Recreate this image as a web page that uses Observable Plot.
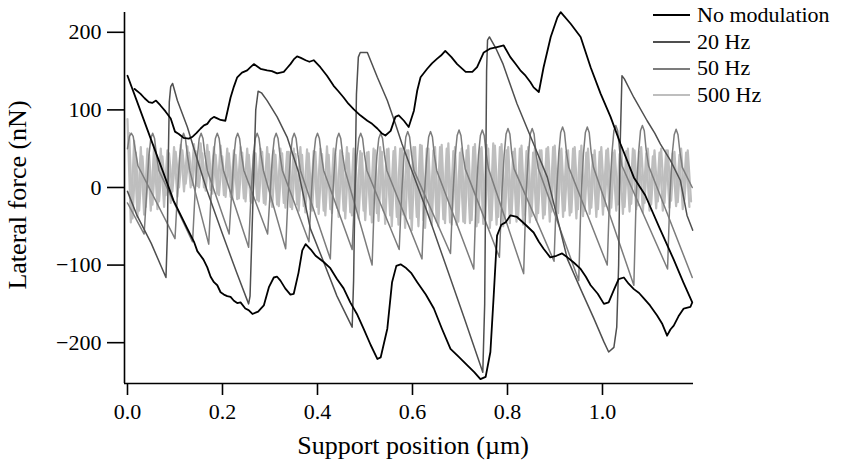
<!DOCTYPE html>
<html><head><meta charset="utf-8">
<script src="https://cdn.jsdelivr.net/npm/d3@7"></script>
<script src="https://cdn.jsdelivr.net/npm/@observablehq/plot@0.6"></script>
<style>
body{margin:0;background:#fff;}
#chart{position:relative;width:863px;height:466px;font-family:"Liberation Serif",serif;}
#legend{position:absolute;left:653px;top:2px;font-size:22px;line-height:26.7px;}
#legend div{display:flex;align-items:center;white-space:nowrap;}
#legend span.sw{display:inline-block;width:37px;height:0;border-top:2px solid;margin-right:7px;}
</style>
</head><body><div id="chart"><div id="legend"></div></div>
<script>
const seriesNames = ["No modulation","20 Hz","50 Hz","500 Hz"];
const seriesColors = ["#000000","#4f4f4f","#7c7c7c","#bebebe"];
const xTicks = [0,0.2,0.4,0.6,0.8,1.0];
const yTicks = [-200,-100,0,100,200];

const noModX = [0,0.02,0.05,0.075,0.097,0.126,0.14,0.147,0.16,0.168,0.175,0.182,0.189,0.196,0.203,0.21,0.217,0.224,0.231,0.238,0.248,0.255,0.263,0.275,0.287,0.298,0.308,0.315,0.322,0.332,0.343,0.35,0.36,0.368,0.375,0.386,0.396,0.413,0.427,0.441,0.455,0.469,0.483,0.497,0.512,0.526,0.533,0.547,0.557,0.566,0.575,0.585,0.597,0.61,0.628,0.645,0.662,0.68,0.697,0.715,0.73,0.743,0.754,0.764,0.771,0.778,0.787,0.796,0.806,0.82,0.838,0.855,0.866,0.876,0.89,0.903,0.915,0.926,0.94,0.954,0.965,0.975,0.99,1.003,1.013,1.024,1.034,1.045,1.055,1.066,1.077,1.087,1.1,1.115,1.126,1.136,1.143,1.15,1.16,1.171,1.185,1.189,
1.17,1.15,1.12,1.09,1.066,1.038,1.017,0.996,0.975,0.954,0.933,0.912,0.905,0.891,0.876,0.866,0.855,0.848,0.838,0.827,0.816,0.806,0.792,0.778,0.764,0.75,0.736,0.726,0.712,0.694,0.682,0.669,0.66,0.652,0.641,0.631,0.617,0.61,0.603,0.592,0.582,0.571,0.564,0.554,0.543,0.535,0.526,0.515,0.505,0.49,0.476,0.465,0.455,0.444,0.434,0.42,0.406,0.392,0.383,0.375,0.365,0.357,0.35,0.343,0.336,0.329,0.322,0.315,0.304,0.294,0.28,0.266,0.259,0.252,0.241,0.231,0.224,0.217,0.206,0.196,0.189,0.182,0.175,0.168,0.161,0.154,0.145,0.136,0.129,0.118,0.108,0.1,0.091,0.08,0.069,0.06,0.052,0.045,0.036,0.027,0.015,0.006,0];
const noModY = [144,111,61,20,-17,-53,-70,-82,-93,-103,-115,-122,-126,-135,-138,-140,-141,-146,-149,-148,-156,-158,-163,-160,-152,-128,-116,-115,-120,-130,-138,-137,-110,-81,-73,-80,-88,-96,-104,-118,-130,-148,-163,-182,-203,-221,-219,-182,-122,-101,-99,-103,-110,-122,-138,-156,-182,-208,-218,-229,-238,-247,-244,-212,-139,-62,-48,-45,-36,-38,-48,-58,-70,-79,-90,-88,-85,-90,-97,-105,-115,-126,-137,-150,-148,-132,-118,-116,-124,-131,-136,-143,-152,-165,-176,-191,-183,-178,-166,-156,-154,-148,
-122,-93,-52,-10,13,56,91,121,155,194,211,226,219,194,155,123,129,136,144,151,160,168,183,181,179,174,155,149,149,159,168,176,170,166,160,153,142,125,99,78,86,93,91,73,67,70,76,82,86,93,101,108,116,124,131,144,155,164,162,164,167,169,165,159,154,149,148,147,150,151,153,159,155,151,148,142,130,116,86,87,89,91,88,82,80,76,70,65,63,64,69,72,89,98,106,112,109,110,115,121,127];

const hz20X = [0,0.02,0.05,0.081,0.084,0.086,0.088,0.091,0.095,0.105,0.126,0.15,0.168,0.2,0.23,0.255,0.258,0.262,0.266,0.27,0.275,0.282,0.294,0.315,0.336,0.36,0.385,0.413,0.441,0.473,0.476,0.479,0.482,0.486,0.49,0.505,0.526,0.547,0.564,0.578,0.596,0.63,0.67,0.71,0.748,0.752,0.754,0.756,0.758,0.762,0.775,0.79,0.82,0.855,0.884,0.926,0.954,0.982,1.003,1.013,1.024,1.03,1.034,1.037,1.041,1.046,1.066,1.094,1.11,1.122,1.143,1.164,1.178,1.19];
const hz20Y = [-5,-36,-72,-116,-60,40,110,130,134,112,78,30,-5,-60,-110,-150,-140,-60,20,100,124,122,112,91,65,20,-53,-96,-140,-180,-120,0,120,168,174,174,142,112,82,56,26,-30,-100,-170,-238,-150,0,150,190,194,180,160,108,56,13,-92,-131,-169,-199,-212,-206,-180,-100,50,144,140,116,86,70,56,35,9,-36,-55];

const hz50aX = [0,0.004,0.008,0.012,0.016,0.022,
0.1,0.105,0.11,0.114,0.118,0.122,0.126,0.131,
0.171,0.176,0.181,0.185,0.189,0.193,0.197,0.202,
0.255,0.26,0.265,0.269,0.273,0.277,0.281,0.286,
0.333,0.338,0.343,0.347,0.351,0.355,0.359,0.364,
0.427,0.432,0.437,0.441,0.445,0.449,0.453,0.458,
0.515,0.52,0.525,0.529,0.533,0.537,0.541,0.546,
0.62,0.625,0.63,0.634,0.638,0.642,0.646,0.651,
0.729,0.734,0.739,0.743,0.747,0.751,0.755,0.76,
0.834,0.839,0.844,0.848,0.852,0.856,0.86,0.865,
0.95,0.955,0.96,0.964,0.968,0.972,0.976,0.981,
1.066,1.071,1.076,1.08,1.084,1.088,1.092,1.097,
1.189];
const hz50aY = [50,66,70,66,50,28,
-66,-10,40,63,70,63,42,22,
-73,-10,40,63,70,63,42,22,
-77,-10,40,63,70,63,42,22,
-79,-10,40,63,70,63,42,22,
-92,-10,40,63,70,63,42,22,
-100,-10,40,63,70,63,42,22,
-92,-10,40,65,72,65,42,22,
-105,-10,42,67,74,67,44,24,
-111,-10,42,69,76,69,44,24,
-120,-10,44,71,78,71,46,26,
-126,-10,45,73,80,73,48,28,
-116];

const hz50bX = [0,
0.035,0.04,0.045,0.049,0.053,0.057,0.061,0.066,
0.137,0.142,0.147,0.151,0.155,0.159,0.163,0.168,
0.214,0.219,0.224,0.228,0.232,0.236,0.24,0.245,
0.295,0.3,0.305,0.309,0.313,0.317,0.321,0.326,
0.382,0.387,0.392,0.396,0.4,0.404,0.408,0.413,
0.473,0.478,0.483,0.487,0.491,0.495,0.499,0.504,
0.572,0.577,0.582,0.586,0.59,0.594,0.598,0.603,
0.68,0.685,0.69,0.694,0.698,0.702,0.706,0.711,
0.783,0.788,0.793,0.797,0.801,0.805,0.809,0.814,
0.898,0.903,0.908,0.912,0.916,0.92,0.924,0.929,
1.01,1.015,1.02,1.024,1.028,1.032,1.036,1.041,
1.137,1.142,1.147,1.151,1.155,1.159,1.163,1.168,
1.189];
const hz50bY = [-20,
-60,-10,40,63,70,63,42,22,
-70,-10,40,63,70,63,42,22,
-60,-10,40,63,70,63,42,22,
-60,-10,40,63,70,63,42,22,
-70,-10,40,63,70,63,42,22,
-80,-10,40,63,70,63,42,22,
-80,-10,40,65,72,65,42,22,
-85,-10,42,67,74,67,44,24,
-90,-10,42,69,76,69,44,24,
-95,-10,44,71,78,71,46,26,
-100,-10,45,73,80,73,48,28,
-105,-10,44,68,75,68,46,26,
0];

const step500 = 0.007;
const hz500fwd = [88,-45,60,-38,52,-35,50,-30,54,-28,50,-25,48,-20,52,-12,55,-5,53,0,56,2,57,0,55,-3,52,-8,54,-10,50,-12,48,-15,52,-14,50,-18,47,-16,50,-20,52,-18,48,-22,50,-20,46,-25,50,-22,52,-24,49,-28,47,-25,50,-30,53,-28,50,-26,48,-30,52,-32,50,-28,47,-30,45,-35,50,-33,52,-30,49,-36,47,-38,50,-35,48,-40,52,-38,55,-42,50,-40,48,-44,52,-41,50,-45,47,-48,45,-44,48,-46,52,-50,50,-47,55,-52,57,-48,52,-50,48,-46,46,-44,50,-48,47,-45,45,-42,48,-40,50,-44,52,-41,48,-38,46,-36,50,-40,47,-37,45,-34,42,-38,46,-35,48,-33,45,-30,43,-34,47,-31,50,-28,46,-32,44,-30,40,-27,45,-30,48,-26,44,-24,42,-28,45,-25];
const hz500bwd = [70,-40,45,-30,40,-25,42,-22,45,-18,40,-10,44,-5,46,0,48,5,45,3,47,0,44,-4,46,-8,42,-10,40,-12,44,-15,42,-14,45,-18,42,-20,44,-18,46,-22,43,-25,42,-24,44,-26,46,-28,43,-30,42,-32,44,-30,46,-34,43,-36,42,-33,44,-38,46,-40,44,-36,42,-40,44,-42,46,-45,48,-43,46,-47,50,-50,52,-48,50,-52,48,-55,52,-50,54,-52,50,-48,52,-50,55,-46,57,-48,52,-44,50,-46,54,-42,56,-45,52,-40,50,-42,54,-38,56,-40,52,-36,50,-38,54,-35,52,-37,50,-33,48,-35,52,-31,54,-33,50,-30,48,-32,52,-28,54,-30,50,-26,48,-28,52,-24,50,-26,48,-22,52,-25,50,-21,48,-23,52,-20,50,-22,48,-18,50,-20,48,-17,46,-19,50,-16,48,-18];

const rows = [];
noModX.forEach((x,i)=>rows.push({s:"No modulation",part:"a",x,y:noModY[i]}));
hz20X.forEach((x,i)=>rows.push({s:"20 Hz",part:"a",x,y:hz20Y[i]}));
hz50aX.forEach((x,i)=>rows.push({s:"50 Hz",part:"a",x,y:hz50aY[i]}));
hz50bX.forEach((x,i)=>rows.push({s:"50 Hz",part:"b",x,y:hz50bY[i]}));
hz500fwd.forEach((y,i)=>{const x=i*step500; if(x<=1.19) rows.push({s:"500 Hz",part:"f",x,y});});
hz500bwd.forEach((y,i)=>{const x=i*step500+step500/2; if(x<=1.19) rows.push({s:"500 Hz",part:"b",x,y});});

const color = Object.fromEntries(seriesNames.map((n,i)=>[n,seriesColors[i]]));
const sub = n => rows.filter(r=>r.s===n);
const xDom=[-0.0063,1.1916], yDom=[-252.6,225.5];

const plot = Plot.plot({
  width:863,height:466,marginLeft:124,marginRight:170,marginTop:12,marginBottom:83,
  style:{fontFamily:"Liberation Serif, serif",fontSize:"22px",color:"#000",background:"#fff",overflow:"visible"},
  x:{domain:xDom},
  y:{domain:yDom},
  marks:[
    Plot.line(sub("500 Hz"),{x:"x",y:"y",z:"part",stroke:color["500 Hz"],strokeWidth:2.2}),
    Plot.line(sub("50 Hz"),{x:"x",y:"y",z:"part",stroke:color["50 Hz"],strokeWidth:1.5}),
    Plot.line(sub("20 Hz"),{x:"x",y:"y",z:"part",stroke:color["20 Hz"],strokeWidth:1.5}),
    Plot.line(sub("No modulation"),{x:"x",y:"y",z:"part",stroke:color["No modulation"],strokeWidth:1.8}),
    Plot.ruleX([xDom[0]],{stroke:"#000",strokeWidth:1.6}),
    Plot.ruleY([yDom[0]],{stroke:"#000",strokeWidth:1.6}),
    Plot.axisX({ticks:xTicks,tickFormat:d=>d.toFixed(1),tickSize:12,tickPadding:8,strokeWidth:1.6,label:null}),
    Plot.axisY({ticks:yTicks,tickSize:17,tickPadding:6,strokeWidth:1.6,label:null}),
    Plot.text(["Support position (µm)"],{frameAnchor:"bottom",dx:4,dy:70,text:d=>d,fontSize:26}),
    Plot.text(["Lateral force (nN)"],{frameAnchor:"left",textAnchor:"middle",dx:-107,dy:-3,rotate:-90,text:d=>d,fontSize:26})
  ]
});
document.getElementById("chart").appendChild(plot);
const lg = document.getElementById("legend");
seriesNames.forEach((n,i)=>{
  const d=document.createElement("div");
  d.innerHTML=`<span class="sw" style="border-color:${seriesColors[i]}"></span>${n}`;
  lg.appendChild(d);
});
</script>
</body></html>
